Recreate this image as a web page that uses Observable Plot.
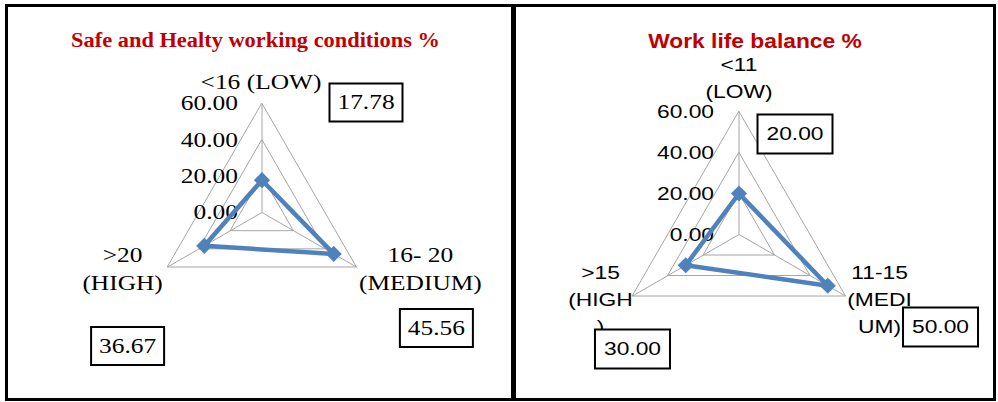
<!DOCTYPE html>
<html>
<head>
<meta charset="utf-8">
<script src="https://cdn.jsdelivr.net/npm/d3@7"></script>
<script src="https://cdn.jsdelivr.net/npm/@observablehq/plot@0.6"></script>
<style>
  html, body { margin: 0; padding: 0; background: #fff; }
  #page { position: relative; width: 998px; height: 402px; overflow: hidden; background: #fff; }
  .panel { position: absolute; top: 0; }
  .frame { position: absolute; left: 5px; top: 4px; width: 991px; height: 397px; border: 3px solid #000; box-sizing: border-box; }
  .divider { position: absolute; left: 511px; top: 4px; width: 5px; height: 397px; background: #000; }
</style>
</head>
<body>
<div id="page">
  <div class="panel" id="left"></div>
  <div class="panel" id="right" style="left:516px"></div>
  <div class="frame"></div>
  <div class="divider"></div>
</div>
<script>
// Radial axis ticks shared by both radars
const radialTicks = [0, 20, 40, 60];

// Safe and healthy working conditions (% of respondents per score band)
const safeTitle = "Safe and Healty working conditions %";
const safeCategories = ["<16 (LOW)", "16- 20\n(MEDIUM)", ">20\n(HIGH)"];
const safeValues = [17.78, 45.56, 36.67];

// Work life balance (% of respondents per score band)
const balanceTitle = "Work life balance %";
const balanceCategories = ["<11\n(LOW)", "11-15\n(MEDI\nUM)", ">15\n(HIGH\n)"];
const balanceValues = [20.00, 50.00, 30.00];

const seriesColor = "#4F81BD";
const gridColor = "#A6A6A6";
const titleColor = "#C00000";

// Category i sits on a spoke i*120° clockwise from the top
function polar(v, i, n) {
  const a = (i * 2 * Math.PI) / n;
  return [v * Math.sin(a), v * Math.cos(a)];
}

function radar(opts) {
  const {
    title, categories, values, width, height, cx, cy, radius,
    font, fontSize, lineHeight, titleFont, titleSize, titleBaseline,
    titleScale, textScale, labelOffsets, boxOffsets, boxSize, tickGap
  } = opts;
  const n = categories.length;
  const maxTick = d3.max(radialTicks);
  const k = radius / maxTick; // pixels per percentage point

  const series = values.map((v, i) => {
    const [x, y] = polar(v, i, n);
    return {category: categories[i], value: v, x, y};
  });
  const grid = radialTicks.filter((t) => t > 0).flatMap((t) =>
    categories.map((c, i) => {
      const [x, y] = polar(t, i, n);
      return {level: t, x, y};
    })
  );
  const spokes = categories.map((c, i) => {
    const [x, y] = polar(maxTick, i, n);
    return {category: c, x, y};
  });
  const axisLabels = spokes.map((s, i) => ({
    text: s.category,
    x: s.x + labelOffsets[i][0] / k,
    y: s.y - labelOffsets[i][1] / k
  }));
  const valueLabels = series.map((d, i) => ({
    text: d.value.toFixed(2),
    x: spokes[i].x + boxOffsets[i][0] / k,
    y: spokes[i].y - boxOffsets[i][1] / k
  }));
  const [bw, bh] = boxSize;
  const boxSymbol = {draw(ctx) { ctx.rect(-bw / 2, -bh / 2, bw, bh); }};

  const svg = Plot.plot({
    width, height, margin: 0,
    x: {domain: [-cx / k, (width - cx) / k], axis: null},
    y: {domain: [-(height - cy) / k, cy / k], axis: null},
    style: {background: "transparent", overflow: "visible"},
    marks: [
      Plot.line(grid, {x: "x", y: "y", z: "level", curve: "linear-closed", stroke: gridColor, strokeWidth: 1}),
      Plot.link(spokes, {x1: () => 0, y1: () => 0, x2: "x", y2: "y", stroke: gridColor, strokeWidth: 1}),
      Plot.text(radialTicks, {
        x: () => 0, y: (d) => d, text: (d) => d.toFixed(2), textAnchor: "end", dx: -tickGap,
        fontFamily: font, fontSize, fill: "#000"
      }),
      Plot.line(series, {x: "x", y: "y", curve: "linear-closed", stroke: seriesColor, strokeWidth: 4.5, strokeLinejoin: "round"}),
      Plot.dot(series, {x: "x", y: "y", symbol: "diamond2", r: 7.3, fill: seriesColor, stroke: "none"}),
      Plot.text(axisLabels, {
        x: "x", y: "y", text: "text", lineHeight, fontFamily: font, fontSize, fill: "#000"
      }),
      Plot.dot(valueLabels, {x: "x", y: "y", symbol: boxSymbol, fill: "#fff", stroke: "#000", strokeWidth: 2}),
      Plot.text(valueLabels, {x: "x", y: "y", text: "text", fontFamily: font, fontSize, fill: "#000"}),
      Plot.text([title], {
        frameAnchor: "top", dy: titleBaseline, lineAnchor: "bottom", text: (d) => d,
        fontFamily: titleFont, fontSize: titleSize, fontWeight: "bold", fill: titleColor
      })
    ]
  });

  // Wide lettering: stretch every label horizontally about its anchor point
  svg.querySelectorAll("text").forEach((t) => {
    const s = t.textContent === title ? titleScale : textScale;
    const tr = t.getAttribute("transform") || "";
    t.setAttribute("transform", `${tr} scale(${s},1)`);
  });
  return svg;
}

document.getElementById("left").appendChild(radar({
  title: safeTitle, categories: safeCategories, values: safeValues,
  width: 510, height: 402, cx: 261.5, cy: 212, radius: 109,
  font: "Liberation Serif", fontSize: 21, lineHeight: 1.33,
  titleFont: "Liberation Serif", titleSize: 20, titleBaseline: 46, titleScale: 1.12,
  textScale: 1.21, tickGap: 24,
  labelOffsets: [[-1, -23], [64, 0.5], [-45, 0.5]],
  boxOffsets: [[104, -1], [80, 61], [-40, 79]],
  boxSize: [73, 38]
}));

document.getElementById("right").appendChild(radar({
  title: balanceTitle, categories: balanceCategories, values: balanceValues,
  width: 477, height: 402, cx: 222.5, cy: 234, radius: 123,
  font: "Liberation Sans", fontSize: 19, lineHeight: 1.42,
  titleFont: "Liberation Sans", titleSize: 20, titleBaseline: 47, titleScale: 1.14,
  textScale: 1.2, tickGap: 25,
  labelOffsets: [[0, -36], [34, 1.5], [-32, 1]],
  boxOffsets: [[56, 22.5], [95, 31], [0, 53]],
  boxSize: [75, 39]
}));
</script>
</body>
</html>
